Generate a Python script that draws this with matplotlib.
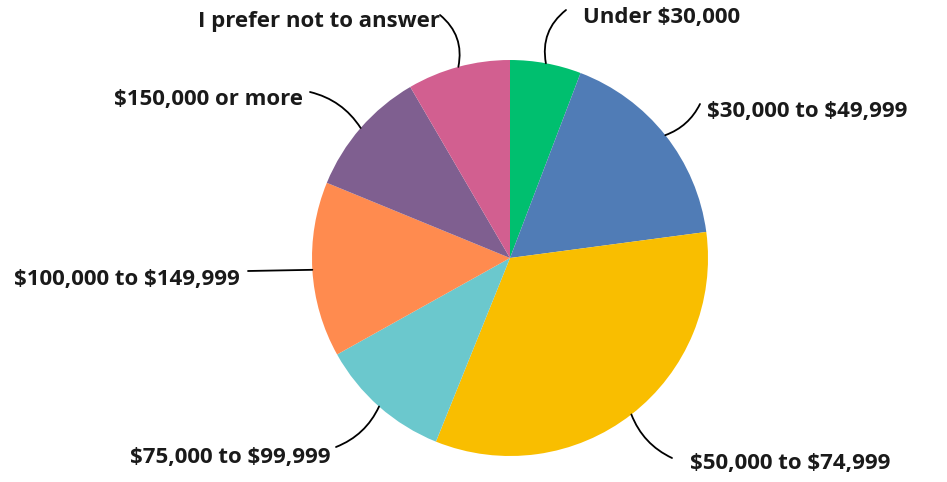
import numpy as np
import matplotlib.pyplot as plt

plt.rcParams['text.parse_math'] = False

labels = ['Under $30,000', '$30,000 to $49,999', '$50,000 to $74,999', '$75,000 to $99,999',
          '$100,000 to $149,999', '$150,000 or more', 'I prefer not to answer']
shares = [5.8, 17.1, 33.2, 10.8, 14.3, 10.4, 8.4]
colors = ['#00BF6F', '#507CB6', '#F9BE00', '#6BC8CD', '#FF8B4F', '#7F5F90', '#D25F90']

# label layout in pixel coords (y down): line end, text anchor, alignment, curvature
line_end = [(566, 10), (700, 104), (672, 458), (336, 447), (248, 271), (310, 92), (440, 15)]
text_pos = [(583, 18), (707, 112), (690, 463), (330, 457), (240, 280), (303, 100), (440, 22)]
aligns = ['left', 'left', 'left', 'right', 'right', 'right', 'right']
rads = [0.3, -0.2, -0.2, 0.2, 0.0, -0.2, -0.3]

W, H = 947, 482
cx, cy, R = 510, H - 258, 198

fig = plt.figure(figsize=(9.47, 4.82), dpi=100)
ax = fig.add_axes([0, 0, 1, 1])
ax.set_xlim(0, W)
ax.set_ylim(0, H)
ax.axis('off')

wedges, _ = ax.pie(shares, colors=colors, startangle=90, counterclock=False,
                   center=(cx, cy), radius=R, wedgeprops=dict(linewidth=0))
ax.set_aspect('equal')
ax.set_xlim(0, W)
ax.set_ylim(0, H)

for w, lab, le, tp, al, rd in zip(wedges, labels, line_end, text_pos, aligns, rads):
    ang = np.deg2rad((w.theta1 + w.theta2) / 2)
    p = (cx + R * np.cos(ang), cy + R * np.sin(ang))
    ax.annotate('', xy=p, xytext=(le[0], H - le[1]),
                arrowprops=dict(arrowstyle='-', color='black', lw=1.3,
                                connectionstyle=f'arc3,rad={rd}', shrinkA=0, shrinkB=0))
    ax.text(tp[0], H - tp[1], lab, ha=al, va='center', fontsize=16, fontweight='bold',
            family='Open Sans', color='#1a1a1a')

fig.savefig('out.png', dpi=100)
